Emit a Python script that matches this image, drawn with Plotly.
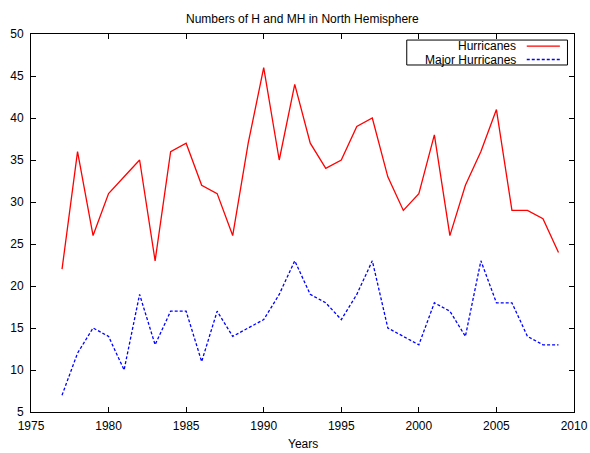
import plotly.graph_objects as go

# Annual counts in the Northern Hemisphere
years = list(range(1977, 2010))
hurricanes = [22, 36, 26, 31, 33, 35, 23, 36, 37, 32, 31, 26, 37, 46, 35, 44, 37,
              34, 35, 39, 40, 33, 29, 31, 38, 26, 32, 36, 41, 29, 29, 28, 24]
major_hurricanes = [7, 12, 15, 14, 10, 19, 13, 17, 17, 11, 17, 14, 15, 16, 19, 23, 19,
                    18, 16, 19, 23, 15, 14, 13, 18, 17, 14, 23, 18, 18, 14, 13, 13]

x_ticks = [1975, 1980, 1985, 1990, 1995, 2000, 2005, 2010]
y_ticks = [5, 10, 15, 20, 25, 30, 35, 40, 45, 50]

series_names = ["Hurricanes", "Major Hurricanes"]
red = "#ff0000"
blue = "#0000ff"

FONT = "Liberation Sans, Arial, sans-serif"
TEXT = dict(family=FONT, size=12, color="black")

fig = go.Figure()
fig.add_trace(go.Scatter(x=years, y=hurricanes, mode="lines", name=series_names[0],
                         line=dict(color=red, width=1.3), showlegend=False))
fig.add_trace(go.Scatter(x=years, y=major_hurricanes, mode="lines", name=series_names[1],
                         line=dict(color=blue, width=1.3, dash="3px,2px"), showlegend=False))

axis_common = dict(
    showgrid=False, zeroline=False, showline=True, linecolor="black", linewidth=1,
    mirror="ticks", ticks="inside", ticklen=5, tickcolor="black", tickwidth=1,
    tickfont=TEXT, automargin=False,
)
fig.update_xaxes(range=[1975, 2010], tickvals=x_ticks, ticklabelstandoff=3, **axis_common)
fig.update_yaxes(range=[5, 50], tickvals=y_ticks, ticklabelstandoff=4, **axis_common)

# Key box in the top-right corner with samples to the right of the labels
key_rows = [0.968, 0.9325]
shapes = [
    dict(type="rect", xref="paper", yref="paper", x0=0.692, x1=0.988, y0=0.918, y1=0.984,
         line=dict(color="black", width=1), fillcolor="white", layer="above"),
    dict(type="line", xref="paper", yref="paper", x0=0.913, x1=0.974,
         y0=key_rows[0], y1=key_rows[0], line=dict(color=red, width=1.3), layer="above"),
    dict(type="line", xref="paper", yref="paper", x0=0.913, x1=0.974,
         y0=key_rows[1], y1=key_rows[1],
         line=dict(color=blue, width=1.3, dash="3px,2px"), layer="above"),
]
annotations = [
    dict(text=series_names[0], xref="paper", yref="paper", x=0.897, y=key_rows[0],
         xanchor="right", yanchor="middle", showarrow=False, font=TEXT),
    dict(text=series_names[1], xref="paper", yref="paper", x=0.897, y=key_rows[1],
         xanchor="right", yanchor="middle", showarrow=False, font=TEXT),
    dict(text="Numbers of H and MH in North Hemisphere", xref="paper", yref="paper",
         x=0.5, y=1.040, xanchor="center", yanchor="middle", showarrow=False, font=TEXT),
    dict(text="Years", xref="paper", yref="paper", x=0.5, y=-0.085,
         xanchor="center", yanchor="middle", showarrow=False, font=TEXT),
]

fig.update_layout(
    width=590, height=453,
    margin=dict(l=31, r=16, t=34, b=41),
    paper_bgcolor="white", plot_bgcolor="white",
    shapes=shapes, annotations=annotations,
)

fig.write_html("out.html")
